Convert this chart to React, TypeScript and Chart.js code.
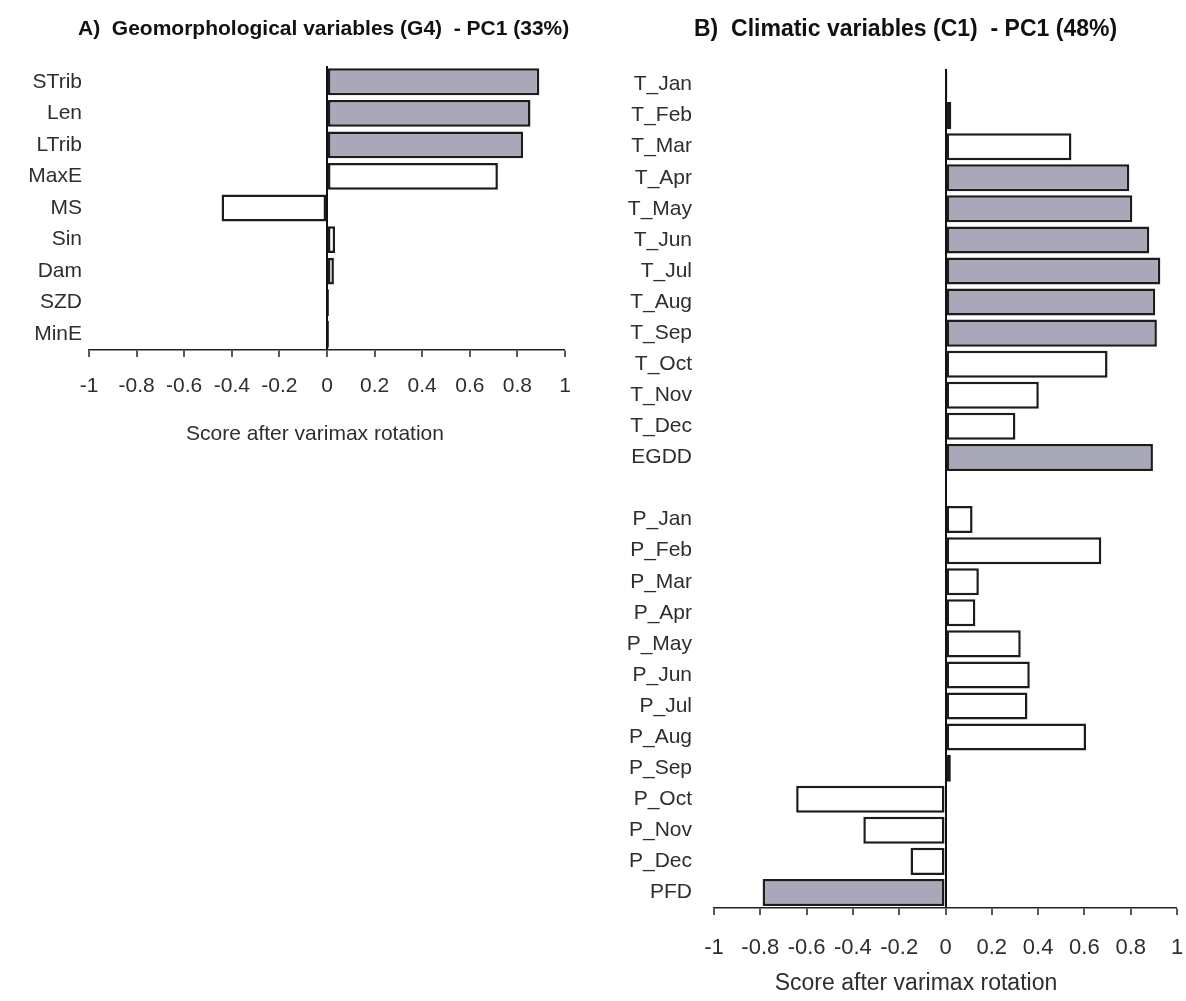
import React, { useEffect, useRef } from 'react';
import { Chart, registerables } from 'chart.js';

Chart.register(...registerables);

// ---- Data ----
const geoTitle = 'A)  Geomorphological variables (G4)  - PC1 (33%)';
const geoCategories = ['STrib', 'Len', 'LTrib', 'MaxE', 'MS', 'Sin', 'Dam', 'SZD', 'MinE'];
const geoScores = [0.892, 0.855, 0.824, 0.718, -0.443, 0.034, 0.029, 0.008, 0.008];
const geoHighlighted = ['STrib', 'Len', 'LTrib'];

const climTitle = 'B)  Climatic variables (C1)  - PC1 (48%)';
const climCategories = [
  'T_Jan', 'T_Feb', 'T_Mar', 'T_Apr', 'T_May', 'T_Jun', 'T_Jul', 'T_Aug', 'T_Sep', 'T_Oct', 'T_Nov', 'T_Dec', 'EGDD',
  '',
  'P_Jan', 'P_Feb', 'P_Mar', 'P_Apr', 'P_May', 'P_Jun', 'P_Jul', 'P_Aug', 'P_Sep', 'P_Oct', 'P_Nov', 'P_Dec', 'PFD',
];
const climScores = [
  0.008, 0.025, 0.544, 0.794, 0.807, 0.88, 0.928, 0.906, 0.913, 0.70, 0.403, 0.302, 0.896,
  null,
  0.117, 0.673, 0.144, 0.129, 0.325, 0.364, 0.354, 0.607, 0.023, -0.645, -0.355, -0.151, -0.79,
];
const climHighlighted = ['T_Apr', 'T_May', 'T_Jun', 'T_Jul', 'T_Aug', 'T_Sep', 'EGDD', 'PFD'];

const axisMin = -1;
const axisMax = 1;
const axisStep = 0.2;
const axisTitle = 'Score after varimax rotation';

// ---- Styles ----
const FONT = '"Liberation Sans", Arial, Helvetica, sans-serif';
const HIGHLIGHT_FILL = '#a8a8b8';
const PLAIN_FILL = '#ffffff';
const EDGE = '#1c1c1c';
const TEXT = '#2e2e2e';

type PanelProps = {
  categories: string[];
  scores: (number | null)[];
  highlighted: string[];
  left: number;
  top: number;
  width: number;
  height: number;
  padTop: number;
  padRight: number;
  yAxisWidth: number;
  xAxisHeight: number;
  labelPad: number;
  labelSize: number;
  tickSize: number;
  tickPad: number;
  barFrac: number;
};

function BarPanel(p: PanelProps) {
  const ref = useRef<HTMLCanvasElement | null>(null);
  useEffect(() => {
    if (!ref.current) return;
    const chart = new Chart(ref.current, {
      type: 'bar',
      data: {
        labels: p.categories,
        datasets: [
          {
            data: p.scores as any,
            backgroundColor: p.categories.map((c) => (p.highlighted.includes(c) ? HIGHLIGHT_FILL : PLAIN_FILL)),
            borderColor: EDGE,
            borderWidth: 2.5,
            borderSkipped: false,
            categoryPercentage: 1,
            barPercentage: p.barFrac,
          },
        ],
      },
      options: {
        indexAxis: 'y',
        animation: false,
        responsive: false,
        maintainAspectRatio: false,
        events: [],
        layout: { padding: { top: p.padTop, right: p.padRight, left: 0, bottom: 0 } },
        plugins: {
          legend: { display: false },
          tooltip: { enabled: false },
          title: { display: false },
        },
        scales: {
          x: {
            type: 'linear',
            min: axisMin,
            max: axisMax,
            afterFit: (s: any) => {
              s.height = p.xAxisHeight;
              s.paddingLeft = 0;
              s.paddingRight = 0;
            },
            ticks: {
              stepSize: axisStep,
              color: TEXT,
              padding: p.tickPad,
              font: { family: FONT, size: p.tickSize },
              maxRotation: 0,
              callback: (v: any) => String(Math.round(Number(v) * 10) / 10),
            },
            grid: {
              color: (ctx: any) => (ctx.tick && ctx.tick.value === 0 ? '#111' : 'rgba(0,0,0,0)'),
              lineWidth: (ctx: any) => (ctx.tick && ctx.tick.value === 0 ? 2 : 0),
              drawTicks: true,
              tickLength: 7,
              tickColor: '#222',
              tickWidth: 1.5,
            },
            border: { display: true, color: '#222', width: 1.5 },
            title: { display: false },
          },
          y: {
            type: 'category',
            afterFit: (s: any) => {
              s.width = p.yAxisWidth;
            },
            ticks: {
              autoSkip: false,
              color: TEXT,
              padding: p.labelPad,
              font: { family: FONT, size: p.labelSize },
            },
            grid: { display: false, drawTicks: false },
            border: { display: false },
          },
        },
      },
    } as any);
    return () => chart.destroy();
  }, []);
  return (
    <canvas
      ref={ref}
      width={p.width}
      height={p.height}
      style={{ position: 'absolute', left: p.left, top: p.top, width: p.width, height: p.height }}
    />
  );
}

const titleStyle = (left: number, size: number): React.CSSProperties => ({
  position: 'absolute',
  left,
  top: 16,
  fontFamily: FONT,
  fontWeight: 'bold',
  fontSize: size,
  lineHeight: `${size + 2}px`,
  whiteSpace: 'pre',
  color: '#111',
});

const axisTitleStyle = (centerX: number, centerY: number, size: number): React.CSSProperties => ({
  position: 'absolute',
  left: centerX - 200,
  width: 400,
  top: centerY - (size + 4) / 2,
  textAlign: 'center',
  fontFamily: FONT,
  fontSize: size,
  lineHeight: `${size + 4}px`,
  whiteSpace: 'pre',
  color: TEXT,
});

export default function App() {
  return (
    <div style={{ position: 'absolute', left: 0, top: 0, width: 1186, height: 1001, background: '#fff', overflow: 'hidden' }}>
      <BarPanel
        categories={geoCategories}
        scores={geoScores}
        highlighted={geoHighlighted}
        left={0}
        top={0}
        width={600}
        height={470}
        padTop={66}
        padRight={35}
        yAxisWidth={89}
        xAxisHeight={120}
        labelPad={7}
        labelSize={21}
        tickSize={21}
        tickPad={17}
        barFrac={0.85}
      />
      <BarPanel
        categories={climCategories}
        scores={climScores}
        highlighted={climHighlighted}
        left={600}
        top={0}
        width={586}
        height={1001}
        padTop={69}
        padRight={9}
        yAxisWidth={114}
        xAxisHeight={93}
        labelPad={22}
        labelSize={21}
        tickSize={22}
        tickPad={20}
        barFrac={0.87}
      />
      <div style={titleStyle(78, 21)}>{geoTitle}</div>
      <div style={titleStyle(694, 23)}>{climTitle}</div>
      <div style={axisTitleStyle(315, 432, 21)}>{axisTitle}</div>
      <div style={axisTitleStyle(916, 982, 23)}>{axisTitle}</div>
    </div>
  );
}
